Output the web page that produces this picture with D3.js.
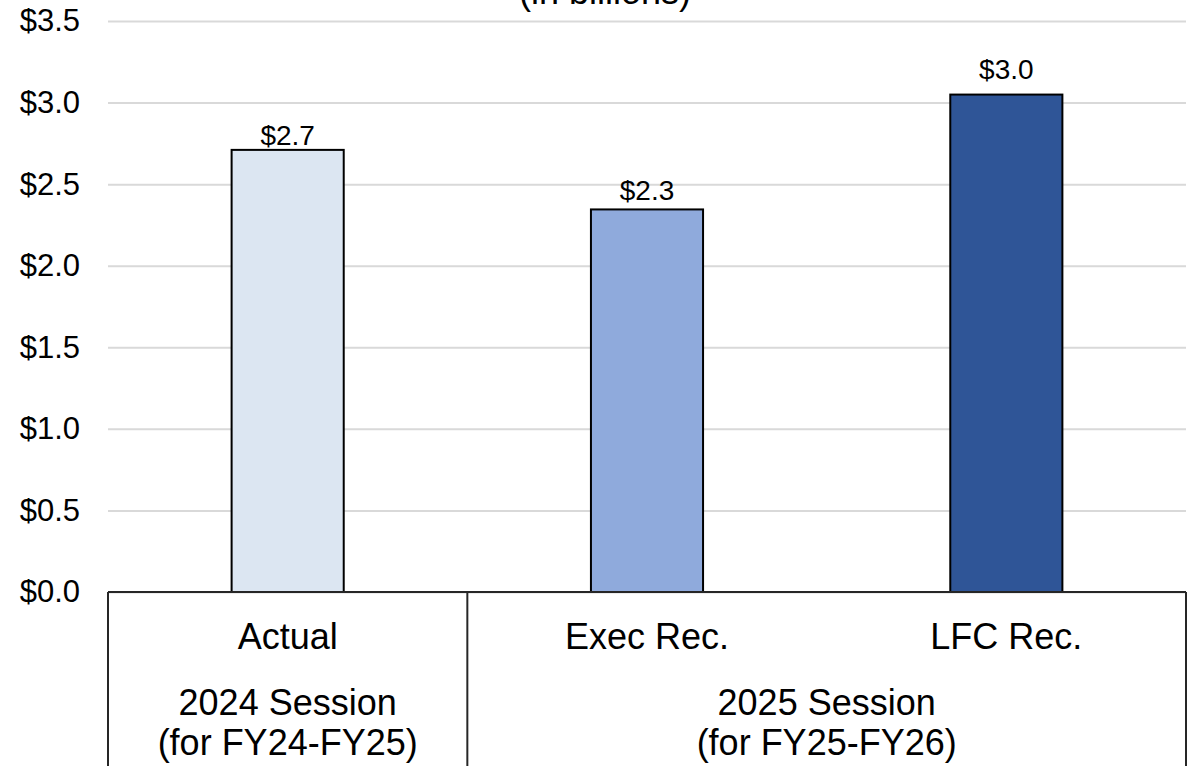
<!DOCTYPE html>
<html>
<head>
<meta charset="utf-8">
<script src="https://cdn.jsdelivr.net/npm/d3@7"></script>
<style>
  html, body { margin: 0; padding: 0; background: #fff; }
  svg { display: block; font-family: "Liberation Sans", Arial, sans-serif; }
</style>
</head>
<body>
<svg id="chart" width="1192" height="766"></svg>
<script>
// Funding by recommendation, in billions of dollars
const categories = ["Actual", "Exec Rec.", "LFC Rec."];
const values = [2.71, 2.345, 3.049];
const sessions = ["2024 Session", "2025 Session"];
const sessionSpans = ["(for FY24-FY25)", "(for FY25-FY26)"];
const sessionMembers = [["Actual"], ["Exec Rec.", "LFC Rec."]];
const yTicks = [0, 0.5, 1.0, 1.5, 2.0, 2.5, 3.0, 3.5];
const barColors = ["#dce6f2", "#8faadc", "#2f5597"];

(function draw() {
  const svg = d3.select("#chart");
  const plotLeft = 108, plotRight = 1186, plotTop = 21, plotBase = 592;

  const x = d3.scaleBand().domain(categories).range([plotLeft, plotRight]).padding(0);
  const y = d3.scaleLinear().domain([0, 3.5]).range([plotBase, plotTop]);
  const barW = x.bandwidth() * 0.312;
  const fmt = d3.format("$.1f");

  // Horizontal gridlines
  svg.append("g")
    .attr("transform", `translate(${plotLeft},0)`)
    .call(d3.axisLeft(y).tickValues(yTicks).tickSize(-(plotRight - plotLeft)).tickFormat(""))
    .call(g => g.select(".domain").remove())
    .call(g => g.selectAll(".tick line").attr("stroke", "#d9d9d9").attr("stroke-width", 2));

  // Value axis labels
  svg.append("g")
    .attr("transform", `translate(${plotLeft},0)`)
    .call(d3.axisLeft(y).tickValues(yTicks).tickSize(0).tickPadding(28).tickFormat(fmt))
    .call(g => g.select(".domain").remove())
    .call(g => g.selectAll(".tick text")
      .attr("font-size", 31).attr("fill", "#000")
      .attr("font-family", "Liberation Sans, Arial, sans-serif"));

  // Bars
  svg.append("g").selectAll("rect")
    .data(categories)
    .join("rect")
    .attr("x", d => x(d) + (x.bandwidth() - barW) / 2)
    .attr("y", (d, i) => y(values[i]))
    .attr("width", barW)
    .attr("height", (d, i) => y(0) - y(values[i]))
    .attr("fill", (d, i) => barColors[i])
    .attr("stroke", "#000")
    .attr("stroke-width", 2);

  // Value labels above bars
  const labelGap = [5, 9, 16];
  svg.append("g").selectAll("text")
    .data(categories)
    .join("text")
    .attr("x", d => x(d) + x.bandwidth() / 2)
    .attr("y", (d, i) => y(values[i]) - labelGap[i])
    .attr("text-anchor", "middle")
    .attr("font-size", 28)
    .text((d, i) => fmt(values[i]));

  // Subtitle
  svg.append("text")
    .attr("x", 605).attr("y", 4)
    .attr("text-anchor", "middle")
    .attr("font-size", 36)
    .text("(in billions)");

  // Multi-level category axis frame
  const frame = svg.append("g").attr("stroke", "#262626").attr("stroke-width", 2).attr("fill", "none");
  frame.append("line").attr("x1", plotLeft).attr("x2", plotRight).attr("y1", plotBase).attr("y2", plotBase);
  const dividers = [plotLeft, x(sessionMembers[1][0]), plotRight];
  frame.selectAll("line.div")
    .data(dividers)
    .join("line")
    .attr("class", "div")
    .attr("x1", d => d).attr("x2", d => d)
    .attr("y1", plotBase).attr("y2", 800);

  // Category labels
  svg.append("g").selectAll("text")
    .data(categories)
    .join("text")
    .attr("x", d => x(d) + x.bandwidth() / 2)
    .attr("y", 649)
    .attr("text-anchor", "middle")
    .attr("font-size", 36)
    .text(d => d);

  // Session group labels
  const groupCenter = (members) => {
    const x0 = x(members[0]);
    const x1 = x(members[members.length - 1]) + x.bandwidth();
    return (x0 + x1) / 2;
  };
  const groups = svg.append("g");
  sessions.forEach((s, i) => {
    const cx = groupCenter(sessionMembers[i]);
    groups.append("text")
      .attr("x", cx).attr("y", 715)
      .attr("text-anchor", "middle").attr("font-size", 36)
      .text(s);
    groups.append("text")
      .attr("x", cx).attr("y", 755)
      .attr("text-anchor", "middle").attr("font-size", 36)
      .text(sessionSpans[i]);
  });
})();
</script>
</body>
</html>
